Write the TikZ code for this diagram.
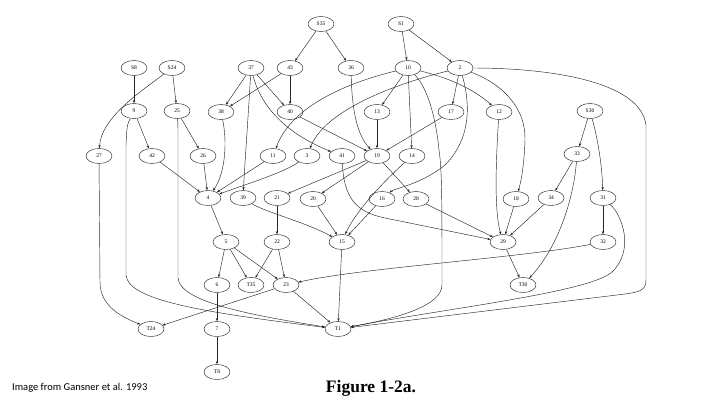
\documentclass[tikz,border=0pt]{standalone}
\usepackage{fontspec}
\setmainfont{Liberation Serif}
\newfontfamily\capfont{Carlito}
\usetikzlibrary{shapes.geometric,arrows.meta}
\begin{document}
\begin{tikzpicture}[x=1pt,y=-1pt,
  nd/.style={ellipse,draw=black!85,line width=0.45pt,minimum width=26pt,minimum height=15pt,inner sep=0pt,font=\fontsize{5.5}{6}\selectfont},
  e/.style={draw=black!85,line width=0.45pt,-{Stealth[length=3.2pt,width=2.4pt]}}]
\useasboundingbox (0,0) rectangle (720,405);
% rank 0
\node[nd] (S35) at (321,24) {S35};
\node[nd] (S1) at (401,24) {S1};
% rank 1
\node[nd] (S8) at (134,68) {S8};
\node[nd] (S24) at (172,68) {S24};
\node[nd] (n37) at (251,68) {37};
\node[nd] (n43) at (290,68) {43};
\node[nd] (n36) at (351,68) {36};
\node[nd] (n10) at (408,68) {10};
\node[nd] (n2) at (460,68) {2};
% rank 2
\node[nd] (n9) at (134,111) {9};
\node[nd] (n25) at (177,111) {25};
\node[nd] (n38) at (221,112) {38};
\node[nd] (n40) at (290,112) {40};
\node[nd] (n13) at (377,112) {13};
\node[nd] (n17) at (451,112) {17};
\node[nd] (n12) at (499,112) {12};
\node[nd] (S30) at (590,111) {S30};
% rank 3
\node[nd] (n27) at (99,156) {27};
\node[nd] (n42) at (152,156) {42};
\node[nd] (n26) at (203,156) {26};
\node[nd] (n11) at (273,156) {11};
\node[nd] (n3) at (307,156) {3};
\node[nd] (n41) at (342,156) {41};
\node[nd] (n19) at (377,156) {19};
\node[nd] (n14) at (412,156) {14};
\node[nd] (n33) at (577,154) {33};
% rank 4
\node[nd] (n4) at (208,198) {4};
\node[nd] (n39) at (243,198) {39};
\node[nd] (n21) at (277,198) {21};
\node[nd] (n20) at (313,199) {20};
\node[nd] (n16) at (382,199) {16};
\node[nd] (n28) at (416,199) {28};
\node[nd] (n18) at (516,199) {18};
\node[nd] (n34) at (551,198) {34};
\node[nd] (n31) at (603,198) {31};
% rank 5
\node[nd] (n5) at (226,242) {5};
\node[nd] (n22) at (277,242) {22};
\node[nd] (n15) at (342,242) {15};
\node[nd] (n29) at (503,242) {29};
\node[nd] (n32) at (603,242) {32};
% rank 6
\node[nd] (n6) at (217,285) {6};
\node[nd] (T35) at (251,285) {T35};
\node[nd] (n23) at (286,285) {23};
\node[nd] (T30) at (523,285) {T30};
% rank 7
\node[nd] (T24) at (151,329) {T24};
\node[nd] (n7) at (217,329) {7};
\node[nd] (T1) at (338,329) {T1};
% rank 8
\node[nd] (T8) at (217,372) {T8};

% edges
\draw[e] (S35) -- (n43);
\draw[e] (S35) -- (n36);
\draw[e] (S1) -- (n10);
\draw[e] (S1) -- (n2);
\draw[e] (S8) -- (n9);
\draw[e] (S24) -- (n25);
\draw[e] (S24) .. controls (140,92) and (101,118) .. (n27);
\draw[e] (n37) -- (n38);
\draw[e] (n43) -- (n38);
\draw[e] (n37) -- (n40);
\draw[e] (n43) -- (n40);
\draw[e] (n37) .. controls (248,120) and (245,160) .. (n39);
\draw[e] (n37) .. controls (262,110) and (290,135) .. (n41);
\draw[e] (n36) .. controls (352,110) and (357,135) .. (n19);
\draw[e] (n40) -- (n19);
\draw[e] (n10) -- (n13);
\draw[e] (n13) -- (n19);
\draw[e] (n17) -- (n19);
\draw[e] (n10) .. controls (450,78) and (475,90) .. (n12);
\draw[e] (n10) -- (n14);
\draw[e] (n10) .. controls (425,85) and (435,110) .. (439,150) .. controls (442,170) and (442,200) .. (442,285) .. controls (442,305) and (400,318) .. (T1);
\draw[e] (n10) .. controls (350,82) and (292,105) .. (n11);
\draw[e] (n2) .. controls (395,84) and (325,110) .. (n3);
\draw[e] (n2) -- (n17);
\draw[e] (n2) .. controls (468,95) and (475,135) .. (445,165) .. controls (420,185) and (395,188) .. (n16);
\draw[e] (n2) .. controls (505,85) and (526,110) .. (525,140) .. controls (524,170) and (520,185) .. (n18);
\draw[e] (n2) .. controls (545,68) and (640,80) .. (646,125) -- (646,280) .. controls (646,290) and (640,292) .. (625,294) -- (T1);
\draw[e] (n12) .. controls (496,160) and (494,210) .. (n29);
\draw[e] (n18) -- (n29);
\draw[e] (n34) -- (n29);
\draw[e] (n28) -- (n29);
\draw[e] (n41) .. controls (344,198) and (356,212) .. (385,218) -- (n29);
\draw[e] (n29) -- (T30);
\draw[e] (n33) .. controls (574,195) and (560,245) .. (T30);
\draw[e] (n33) -- (n34);
\draw[e] (S30) -- (n33);
\draw[e] (S30) .. controls (598,140) and (602,165) .. (n31);
\draw[e] (n31) -- (n32);
\draw[e] (n31) .. controls (622,215) and (635,250) .. (612,272) .. controls (590,292) and (450,308) .. (T1);
\draw[e] (n32) .. controls (520,258) and (360,268) .. (n23);
\draw[e] (n15) -- (T1);
\draw[e] (n14) .. controls (385,180) and (355,212) .. (n15);
\draw[e] (n16) -- (n15);
\draw[e] (n20) -- (n15);
\draw[e] (n39) .. controls (265,212) and (305,222) .. (n15);
\draw[e] (n19) -- (n21);
\draw[e] (n19) -- (n20);
\draw[e] (n19) -- (n28);
\draw[e] (n21) -- (n22);
\draw[e] (n22) -- (T35);
\draw[e] (n22) -- (n23);
\draw[e] (n4) -- (n5);
\draw[e] (n5) -- (n6);
\draw[e] (n5) -- (T35);
\draw[e] (n5) -- (n23);
\draw[e] (n42) -- (n4);
\draw[e] (n26) -- (n4);
\draw[e] (n38) .. controls (227,140) and (226,172) .. (n4);
\draw[e] (n11) -- (n4);
\draw[e] (n3) .. controls (285,172) and (250,183) .. (n4);
\draw[e] (n9) -- (n42);
\draw[e] (n25) -- (n26);
\draw[e] (n9) .. controls (127,125) .. (126,145) -- (126,275) .. controls (128,300) and (200,312) .. (T1);
\draw[e] (n25) .. controls (178,125) .. (178,140) -- (178,278) .. controls (180,302) and (250,315) .. (T1);
\draw[e] (n27) -- (100,282) .. controls (100,308) and (125,318) .. (T24);
\draw[e] (n23) -- (T24);
\draw[e] (n23) -- (T1);
\draw[e] (n6) -- (n7);
\draw[e] (n7) -- (T8);

% captions
\node[anchor=base west,font=\capfont\fontsize{10.5}{12}\selectfont,inner sep=0pt] (src) at (12,390) {Image from Gansner et al. 1993};
\node[anchor=base,font=\fontsize{17.5}{19}\selectfont\bfseries,inner sep=0pt] (cap) at (371,392) {Figure 1-2a.};
\end{tikzpicture}
\end{document}
